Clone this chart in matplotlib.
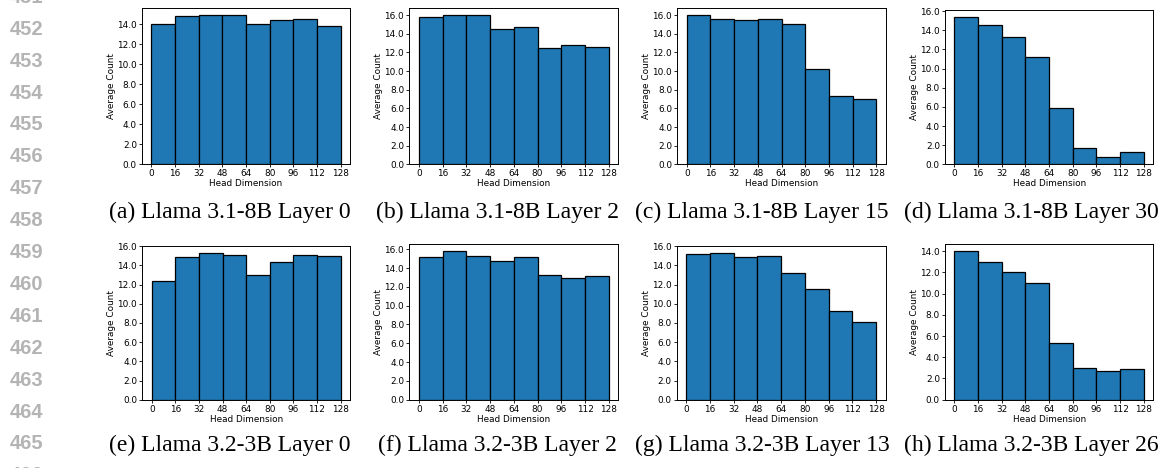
import matplotlib
matplotlib.use('Agg')
import matplotlib.pyplot as plt
from matplotlib.ticker import MultipleLocator, FormatStrFormatter
import numpy as np

# bin edges of the head dimension (16 per bin)
edges = [0, 16, 32, 48, 64, 80, 96, 112, 128]

# average counts per bin
llama31_l0 = [14.0, 14.8, 14.9, 14.9, 14.0, 14.4, 14.5, 13.8]
llama31_l2 = [15.85, 16.0, 16.0, 14.5, 14.75, 12.5, 12.85, 12.6]
llama31_l15 = [16.0, 15.6, 15.45, 15.6, 15.0, 10.2, 7.3, 7.0]
llama31_l30 = [15.35, 14.55, 13.25, 11.25, 5.85, 1.75, 0.75, 1.25]
llama32_l0 = [12.35, 14.85, 15.25, 15.1, 13.0, 14.35, 15.1, 15.0]
llama32_l2 = [15.2, 15.8, 15.3, 14.7, 15.2, 13.25, 12.9, 13.15]
llama32_l13 = [15.15, 15.25, 14.9, 15.0, 13.25, 11.5, 9.25, 8.1]
llama32_l26 = [14.0, 13.0, 12.0, 11.0, 5.35, 3.0, 2.75, 2.9]

captions = ['(a) Llama 3.1-8B Layer 0', '(b) Llama 3.1-8B Layer 2',
            '(c) Llama 3.1-8B Layer 15', '(d) Llama 3.1-8B Layer 30',
            '(e) Llama 3.2-3B Layer 0', '(f) Llama 3.2-3B Layer 2',
            '(g) Llama 3.2-3B Layer 13', '(h) Llama 3.2-3B Layer 26']
line_numbers = list(range(451, 467))

W, H = 1163, 468
fig = plt.figure(figsize=(W / 100, H / 100), dpi=100)

series = [llama31_l0, llama31_l2, llama31_l15, llama31_l30,
          llama32_l0, llama32_l2, llama32_l13, llama32_l26]
# axes boxes in pixels: left, top, right, bottom
boxes = [(142, 7.7, 350, 164.3), (409.3, 7.7, 618.3, 164.3),
         (677.3, 7.7, 885.7, 164.3), (945, 10, 1153.3, 164.3),
         (142.3, 246, 350, 399.7), (409.3, 243.7, 618.3, 399.7),
         (676.7, 246, 885.7, 399.7), (945, 243.7, 1153.3, 399.7)]
cap_x = [230, 497, 762, 1031, 230, 497, 762, 1031]
cap_y = [212, 212, 212, 212, 445, 445, 445, 445]

for vals, (l, t, r, b), cx, cy, cap in zip(series, boxes, cap_x, cap_y, captions):
    ax = fig.add_axes([l / W, 1 - b / H, (r - l) / W, (b - t) / H])
    ax.bar(edges[:-1], vals, width=16, align='edge', color='#1f77b4',
           edgecolor='black', linewidth=0.9)
    ax.set_xticks(edges)
    ax.yaxis.set_major_locator(MultipleLocator(2))
    ax.yaxis.set_major_formatter(FormatStrFormatter('%.1f'))
    ax.tick_params(labelsize=6.4, length=2.2, width=0.6, pad=1.5)
    ax.set_xlabel('Head Dimension', fontsize=6.4, labelpad=0.5)
    ax.set_ylabel('Average Count', fontsize=6.4, labelpad=1)
    for s in ax.spines.values():
        s.set_linewidth(0.7)
    fig.text(cx / W, 1 - cy / H, cap, ha='center', va='center',
             fontsize=17, family='Liberation Serif')

for i, n in enumerate(line_numbers):
    y = -2.6 + 31.9 * i
    fig.text(27 / W, 1 - y / H, str(n), ha='center', va='center',
             fontsize=14.5, color='#b4b4b4', fontweight='bold',
             family='Liberation Sans')

fig.savefig('out.png', dpi=100)
